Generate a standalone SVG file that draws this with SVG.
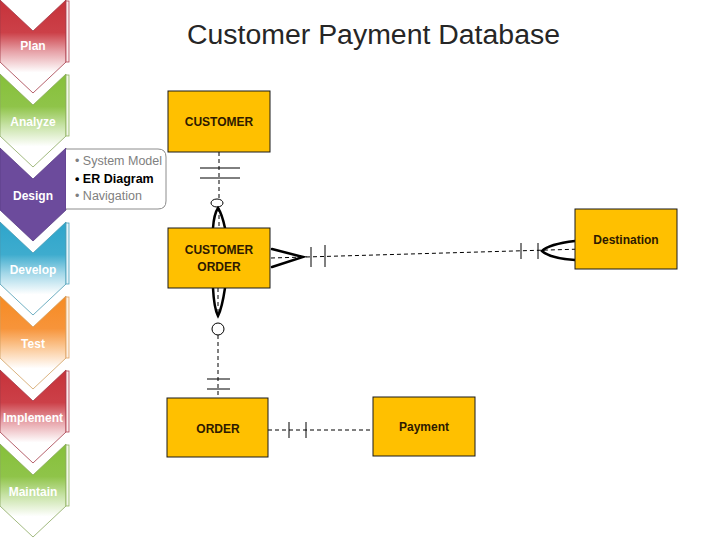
<svg xmlns="http://www.w3.org/2000/svg" width="720" height="540" viewBox="0 0 720 540">
<defs>
  <linearGradient id="gRed" x1="0" y1="0" x2="0" y2="1">
    <stop offset="0" stop-color="#c6323a"/><stop offset="0.35" stop-color="#cc4048"/><stop offset="0.55" stop-color="#e6a0a6"/><stop offset="0.78" stop-color="#ffffff"/><stop offset="1" stop-color="#ffffff"/>
  </linearGradient>
  <linearGradient id="gGreen" x1="0" y1="0" x2="0" y2="1">
    <stop offset="0" stop-color="#86c03a"/><stop offset="0.35" stop-color="#8fc449"/><stop offset="0.55" stop-color="#c6e2a4"/><stop offset="0.78" stop-color="#ffffff"/><stop offset="1" stop-color="#ffffff"/>
  </linearGradient>
  <linearGradient id="gBlue" x1="0" y1="0" x2="0" y2="1">
    <stop offset="0" stop-color="#2ea5cb"/><stop offset="0.35" stop-color="#3eacce"/><stop offset="0.55" stop-color="#a2d7e8"/><stop offset="0.78" stop-color="#ffffff"/><stop offset="1" stop-color="#ffffff"/>
  </linearGradient>
  <linearGradient id="gOrange" x1="0" y1="0" x2="0" y2="1">
    <stop offset="0" stop-color="#f68b23"/><stop offset="0.35" stop-color="#f7943a"/><stop offset="0.55" stop-color="#fbc794"/><stop offset="0.78" stop-color="#ffffff"/><stop offset="1" stop-color="#ffffff"/>
  </linearGradient>
  <style>
    .lbl{font-family:"Liberation Sans",Arial,sans-serif;font-size:12px;font-weight:bold;fill:#ffffff;text-anchor:middle}
    .box{fill:#ffc000;stroke:#1a1a1a;stroke-width:1}
    .btxt{font-family:"Liberation Sans",Arial,sans-serif;font-size:12px;font-weight:bold;fill:#2e1a00;text-anchor:middle}
    .dash{stroke:#000;stroke-width:1;stroke-dasharray:4 3;fill:none}
    .bar{stroke:#000;stroke-width:1;fill:none}
    .crow{stroke:#000;stroke-width:2.5;fill:none;stroke-linecap:round}
    .co{font-family:"Liberation Sans",Arial,sans-serif;font-size:12.5px;fill:#808080}
  </style>
</defs>
<rect width="720" height="540" fill="#ffffff"/>
<g id="sidebar">
  <g id="plan" transform="translate(0,0)">
    <polygon points="0,0 33,31 66,0 66,62 33,93 0,62" fill="url(#gRed)" stroke="#a33a48" stroke-width="0.8"/>
    <rect x="66" y="1" width="3" height="61" fill="#fbeaec" stroke="#b04050" stroke-width="0.8"/>
    <text class="lbl" x="33" y="50">Plan</text>
  </g>
  <g id="analyze" transform="translate(0,74)">
    <polygon points="0,0 33,31 66,0 66,62 33,93 0,62" fill="url(#gGreen)" stroke="#8aa860" stroke-width="0.8"/>
    <rect x="66" y="1" width="3" height="61" fill="#f1f7e8" stroke="#8fb35c" stroke-width="0.8"/>
    <text class="lbl" x="33" y="52">Analyze</text>
  </g>
  <g id="design" transform="translate(0,148)">
    <polygon points="0,0 33,31 66,0 66,62 33,93 0,62" fill="#6c4b9c" stroke="#5a3d86" stroke-width="0.8"/>
    <text class="lbl" x="33" y="52">Design</text>
  </g>
  <g id="develop" transform="translate(0,222)">
    <polygon points="0,0 33,31 66,0 66,62 33,93 0,62" fill="url(#gBlue)" stroke="#4a9ab3" stroke-width="0.8"/>
    <rect x="66" y="1" width="3" height="61" fill="#e6f4f9" stroke="#4aa0bb" stroke-width="0.8"/>
    <text class="lbl" x="33" y="52">Develop</text>
  </g>
  <g id="test" transform="translate(0,296)">
    <polygon points="0,0 33,31 66,0 66,62 33,93 0,62" fill="url(#gOrange)" stroke="#d0a060" stroke-width="0.8"/>
    <rect x="66" y="1" width="3" height="61" fill="#fdf0e2" stroke="#e0a060" stroke-width="0.8"/>
    <text class="lbl" x="33" y="52">Test</text>
  </g>
  <g id="implement" transform="translate(0,370)">
    <polygon points="0,0 33,31 66,0 66,62 33,93 0,62" fill="url(#gRed)" stroke="#a33a48" stroke-width="0.8"/>
    <rect x="66" y="1" width="3" height="61" fill="#fbeaec" stroke="#b04050" stroke-width="0.8"/>
    <text class="lbl" x="33" y="52">Implement</text>
  </g>
  <g id="maintain" transform="translate(0,444)">
    <polygon points="0,0 33,31 66,0 66,62 33,93 0,62" fill="url(#gGreen)" stroke="#8aa860" stroke-width="0.8"/>
    <rect x="66" y="1" width="3" height="61" fill="#f1f7e8" stroke="#8fb35c" stroke-width="0.8"/>
    <text class="lbl" x="33" y="52">Maintain</text>
  </g>
  <g id="callout">
    <path d="M66,149 H158 Q166,149 166,157 V201 Q166,209 158,209 H66" fill="#ffffff" stroke="#8c8c8c" stroke-width="1"/>
    <text class="co" x="75" y="165">• System Model</text>
    <text class="co" x="75" y="183" style="fill:#000;font-weight:bold">• ER Diagram</text>
    <text class="co" x="75" y="200">• Navigation</text>
  </g>
</g>
<text id="title" x="187" y="44" font-family="'Liberation Sans',Arial,sans-serif" font-size="27" fill="#262626" textLength="373" lengthAdjust="spacingAndGlyphs">Customer Payment Database</text>
<g id="connectors">
  <line class="dash" x1="219" y1="152" x2="219" y2="228"/>
  <line class="bar" x1="200" y1="168" x2="240" y2="168"/>
  <line class="bar" x1="200" y1="178" x2="240" y2="178"/>
  <ellipse cx="217" cy="203" rx="6" ry="4" fill="#fff" stroke="#000" stroke-width="1"/>
  <path class="crow" d="M213,228 Q214,214 218,208 Q222,214 225,228"/>
  <path class="crow" d="M213,288 Q214,308 218,316 Q222,308 225,288"/>
  <line class="dash" x1="218" y1="288" x2="218" y2="316"/>
  <circle cx="218" cy="329" r="6" fill="#fff" stroke="#000" stroke-width="1"/>
  <line class="dash" x1="218" y1="335" x2="218" y2="398"/>
  <line class="bar" x1="207" y1="379" x2="230" y2="379"/>
  <line class="bar" x1="207" y1="389" x2="230" y2="389"/>
  <line class="dash" x1="271" y1="258" x2="583" y2="249"/>
  <path class="crow" d="M272,249 L303,257 L272,267"/>
  <line class="bar" x1="311" y1="247" x2="311" y2="267"/>
  <line class="bar" x1="325" y1="245" x2="325" y2="267"/>
  <line class="bar" x1="521" y1="243" x2="521" y2="259"/>
  <line class="bar" x1="538" y1="243" x2="538" y2="259"/>
  <path class="crow" d="M575,241 Q549,244 542,251 Q549,258 575,260"/>
  <line class="dash" x1="268" y1="430" x2="373" y2="430"/>
  <line class="bar" x1="289" y1="422" x2="289" y2="438"/>
  <line class="bar" x1="306" y1="422" x2="306" y2="438"/>
</g>
<g id="customer">
  <rect class="box" x="168" y="91" width="102" height="61"/>
  <text class="btxt" x="219" y="126">CUSTOMER</text>
</g>
<g id="customer-order">
  <rect class="box" x="168" y="228" width="102" height="60"/>
  <text class="btxt" x="219" y="254">CUSTOMER</text>
  <text class="btxt" x="219" y="271">ORDER</text>
</g>
<g id="destination">
  <rect class="box" x="575" y="209" width="102" height="60"/>
  <text class="btxt" x="626" y="244">Destination</text>
</g>
<g id="order">
  <rect class="box" x="167" y="398" width="101" height="59"/>
  <text class="btxt" x="218" y="433">ORDER</text>
</g>
<g id="payment">
  <rect class="box" x="373" y="397" width="102" height="59"/>
  <text class="btxt" x="424" y="431">Payment</text>
</g>
</svg>
